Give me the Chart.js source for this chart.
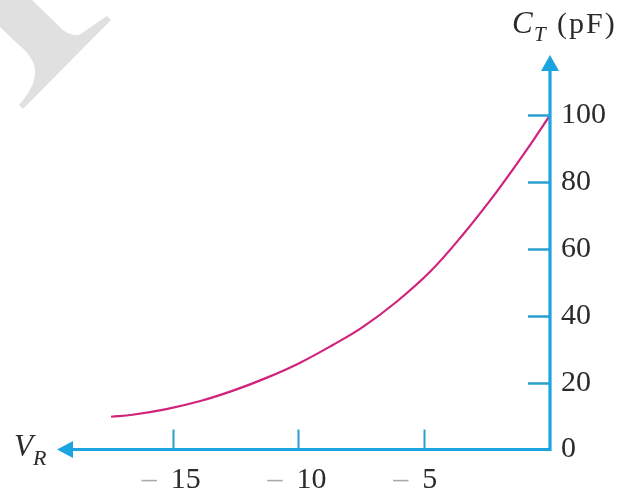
<!DOCTYPE html>
<html>
<head>
<meta charset="utf-8">
<script src="https://cdn.jsdelivr.net/npm/chart.js@4/dist/chart.umd.min.js"></script>
<style>
  html, body { margin: 0; padding: 0; background: #ffffff; }
  #wrap { width: 618px; height: 491px; position: relative; }
</style>
</head>
<body>
<div id="wrap"><canvas id="c" width="618" height="491"></canvas></div>
<script>
// Reverse voltage V_R (volts) and transition capacitance C_T (pF)
const reverseVoltage = [-17.45, -16.6, -15.25, -13.9, -12.6, -11.25, -9.95, -8.65, -7.45, -6.1, -4.75, -3.45, -2.1, -0.9, 0];
const capacitance    = [9.8, 10.4, 12.1, 14.5, 17.6, 21.5, 25.9, 31.2, 36.6, 44.2, 53.3, 64.4, 77.3, 89.9, 100];

// Axis ticks
const xTickValues = [-15, -10, -5];
const xTickLabels = ['15', '10', '5'];
const yTickValues = [0, 20, 40, 60, 80, 100];

const AXIS_BLUE = '#1ca4e0';
const TICK_BLUE = '#2a9fcc';
const TEXT_DARK = '#2b2b2b';
const SERIF = '"Liberation Serif", "DejaVu Serif", serif';

// Light grey corner ornament behind the plot
const cornerMark = {
  id: 'cornerMark',
  beforeDraw(chart) {
    const ctx = chart.ctx;
    ctx.save();
    ctx.fillStyle = '#e0e0e0';
    ctx.beginPath();
    ctx.moveTo(0, 0);
    ctx.lineTo(32, 0);
    ctx.lineTo(63, 30);
    ctx.quadraticCurveTo(70, 36, 79, 35);
    ctx.lineTo(107, 16);
    ctx.lineTo(111, 20);
    ctx.lineTo(23, 109);
    ctx.lineTo(19, 105);
    ctx.quadraticCurveTo(41, 80, 33, 62);
    ctx.quadraticCurveTo(28, 52, 20, 46);
    ctx.lineTo(0, 27);
    ctx.closePath();
    ctx.fill();
    ctx.restore();
  }
};

// Axis lines with arrowheads, tick marks, and axis captions
const arrowAxes = {
  id: 'arrowAxes',
  afterDatasetsDraw(chart) {
    const ctx = chart.ctx;
    const xs = chart.scales.x, ys = chart.scales.y;
    const ox = xs.getPixelForValue(0);
    const oy = ys.getPixelForValue(0);
    const left = chart.chartArea.left;
    const top = chart.chartArea.top;
    ctx.save();

    // tick marks on the y axis (inside the plot)
    ctx.strokeStyle = TICK_BLUE;
    ctx.lineWidth = 2.5;
    yTickValues.filter(v => v !== 0).forEach(v => {
      const py = Math.round(ys.getPixelForValue(v)) + 0.5;
      ctx.beginPath();
      ctx.moveTo(ox - 22, py);
      ctx.lineTo(ox, py);
      ctx.stroke();
    });
    // tick marks on the x axis (above the axis)
    ctx.lineWidth = 2;
    xTickValues.forEach(v => {
      const px = Math.round(xs.getPixelForValue(v)) + 0.5;
      ctx.beginPath();
      ctx.moveTo(px, oy - 20);
      ctx.lineTo(px, oy);
      ctx.stroke();
    });

    // axis lines
    ctx.strokeStyle = AXIS_BLUE;
    ctx.lineWidth = 3.2;
    ctx.lineCap = 'butt';
    ctx.beginPath();
    ctx.moveTo(ox + 1.6, oy);
    ctx.lineTo(left + 14, oy);
    ctx.moveTo(ox, oy + 1.6);
    ctx.lineTo(ox, top + 14);
    ctx.stroke();

    // arrowheads
    ctx.fillStyle = AXIS_BLUE;
    ctx.beginPath();
    ctx.moveTo(left, oy);
    ctx.lineTo(left + 16, oy - 8.5);
    ctx.lineTo(left + 16, oy + 8.5);
    ctx.closePath();
    ctx.fill();
    ctx.beginPath();
    ctx.moveTo(ox, top);
    ctx.lineTo(ox - 9, top + 16);
    ctx.lineTo(ox + 9, top + 16);
    ctx.closePath();
    ctx.fill();

    // x tick labels: grey dash, dark digits
    ctx.textBaseline = 'alphabetic';
    ctx.textAlign = 'left';
    xTickValues.forEach((v, i) => {
      const px = xs.getPixelForValue(v);
      const x0 = px - 31;
      ctx.font = '30px ' + SERIF;
      ctx.fillStyle = '#a8a8a8';
      ctx.fillText('\u2013', x0, oy + 38);
      ctx.fillStyle = TEXT_DARK;
      ctx.fillText(xTickLabels[i], x0 + 29, oy + 38);
    });

    // axis captions
    ctx.fillStyle = TEXT_DARK;
    ctx.font = 'italic 31px ' + SERIF;
    ctx.fillText('V', 14, oy + 6);
    ctx.font = 'italic 22px ' + SERIF;
    ctx.fillText('R', 33, oy + 15);

    ctx.font = 'italic 31px ' + SERIF;
    ctx.fillText('C', 512, 33);
    ctx.font = 'italic 21px ' + SERIF;
    ctx.fillText('T', 534, 41);
    ctx.font = '30px ' + SERIF;
    ctx.letterSpacing = '2px';
    ctx.fillText('(pF)', 557, 33);

    ctx.restore();
  }
};

const points = reverseVoltage.map((v, i) => ({ x: v, y: capacitance[i] }));

new Chart(document.getElementById('c'), {
  type: 'line',
  data: {
    datasets: [{
      data: points,
      borderColor: '#d2237c',
      borderWidth: 2.2,
      pointRadius: 0,
      fill: false,
      tension: 0.4
    }]
  },
  options: {
    responsive: false,
    animation: false,
    devicePixelRatio: 1,
    layout: { padding: { top: 55, left: 57, right: 0, bottom: 0 } },
    plugins: { legend: { display: false }, tooltip: { enabled: false } },
    scales: {
      x: {
        type: 'linear',
        min: -19.6,
        max: 0,
        grid: { display: false },
        border: { display: false },
        ticks: { display: false },
        afterFit(s) { s.height = 41.5; }
      },
      y: {
        type: 'linear',
        position: 'right',
        min: 0,
        max: 118,
        grid: { display: false, drawTicks: false },
        border: { display: false },
        afterBuildTicks(s) { s.ticks = yTickValues.map(v => ({ value: v })); },
        ticks: {
          padding: 11,
          color: TEXT_DARK,
          font: { family: SERIF, size: 30 },
          callback: v => String(v)
        },
        afterFit(s) { s.width = 68; }
      }
    }
  },
  plugins: [cornerMark, arrowAxes]
});
</script>
</body>
</html>
